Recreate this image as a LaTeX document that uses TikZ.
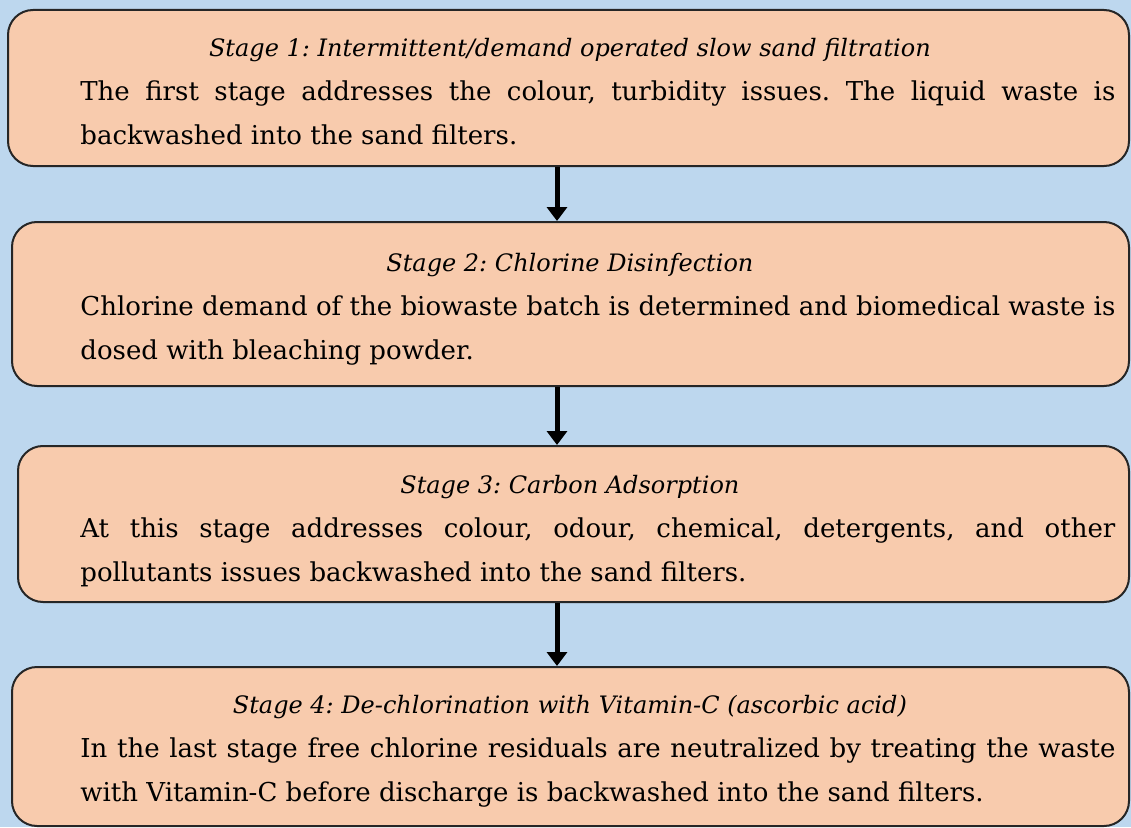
\documentclass[tikz,border=0pt]{standalone}
\usepackage{fontspec}
\setmainfont{DejaVu Serif}
\usetikzlibrary{fit,arrows.meta}

\definecolor{paleblue}{HTML}{BDD7EE}
\definecolor{peach}{HTML}{F8CBAD}

\tikzset{
  stagebox/.style={draw=black!85, line width=1pt, fill=peach, rounded corners=12.5pt, inner sep=0pt},
  stagetext/.style={anchor=base west, inner sep=0pt, text width=517.5pt, align=justify,
    font=\fontsize{13}{22}\selectfont\frenchspacing},
  flow/.style={-{Triangle[length=7pt,width=10pt]}, line width=2.5pt},
}
% centred heading, pulled left to sit over the middle of its box
\newcommand{\stagehead}[1]{\makebox[\linewidth]{\hspace{-28pt}\fontsize{12}{22}\selectfont\textit{#1}}}
\newcommand{\fullline}[1]{\makebox[\linewidth][s]{#1}}

\begin{document}
\begin{tikzpicture}[x=0.5pt,y=0.5pt]
\fill[paleblue] (0,0) rectangle (1131,827);
\useasboundingbox (0,0) rectangle (1131,827);

% the four treatment stages
\node[stagebox, fit={(8,661) (1129,817)}] (s1) {};
\node[stagebox, fit={(12,441) (1129,605)}] (s2) {};
\node[stagebox, fit={(18,225) (1129,381)}] (s3) {};
\node[stagebox, fit={(12,1) (1129,160)}] (s4) {};

\node[stagetext] (t1) at (80,770) {%
  \stagehead{Stage 1: Intermittent/demand operated slow sand filtration}\\
  \fullline{The first stage addresses the colour, turbidity issues. The liquid waste is}\\
  backwashed into the sand filters.};
\node[stagetext] (t2) at (80,556) {%
  \stagehead{Stage 2: Chlorine Disinfection}\\
  \fullline{Chlorine demand of the biowaste batch is determined and biomedical waste is}\\
  dosed with bleaching powder.};
\node[stagetext] (t3) at (80,334) {%
  \stagehead{Stage 3: Carbon Adsorption}\\
  \fullline{At this stage addresses colour, odour, chemical, detergents, and other}\\
  pollutants issues backwashed into the sand filters.};
\node[stagetext] (t4) at (80,114) {%
  \stagehead{Stage 4: De-chlorination with Vitamin-C (ascorbic acid)}\\
  \fullline{In the last stage free chlorine residuals are neutralized by treating the waste}\\
  with Vitamin-C before discharge is backwashed into the sand filters.};

% arrows between stages, all on one vertical line
\coordinate (axis) at (557,0);
\draw[flow] (s1.south -| axis) -- (s2.north -| axis);
\draw[flow] (s2.south -| axis) -- (s3.north -| axis);
\draw[flow] (s3.south -| axis) -- (s4.north -| axis);
\end{tikzpicture}
\end{document}
